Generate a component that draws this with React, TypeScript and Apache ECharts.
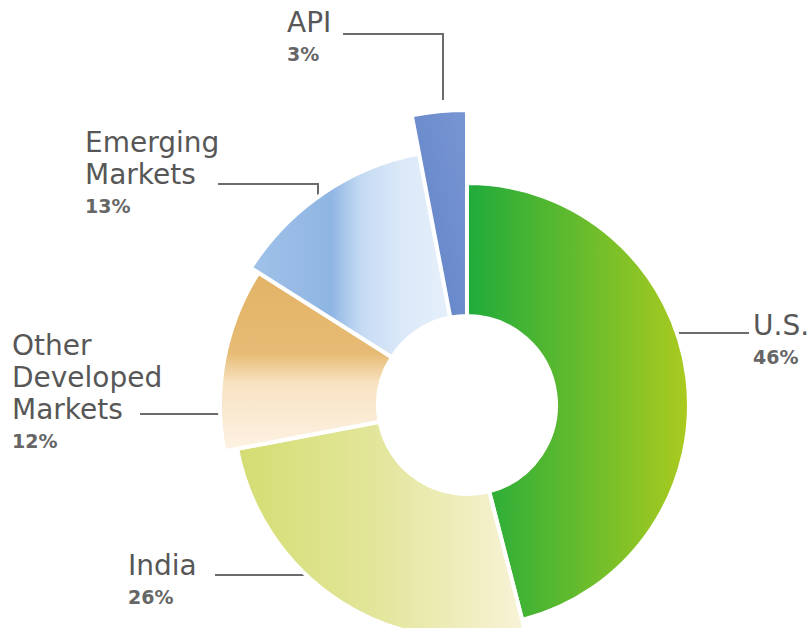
import { useEffect, useRef } from 'react';
import * as echarts from 'echarts';

// ---- data ----
const categories = ['U.S.', 'India', 'Other\nDeveloped\nMarkets', 'Emerging\nMarkets', 'API'];
const shares = [46, 26, 12, 13, 3];

// ---- styling / layout (not data) ----
const CENTER = [467, 405];
const INNER_RADIUS = 89;
const OUTER_RADII = [222, 234, 247, 256, 295];
const FONT = '"DejaVu Sans", sans-serif';

const GRADIENTS: [number, number, number, number, [number, string][]][] = [
  [0, 0, 1, 0, [[0, '#1fab3b'], [1, '#abcb1f']]],
  [0, 0, 1, 0, [[0, '#d4dd72'], [0.5, '#e3e69c'], [1, '#f8f3d8']]],
  [0, 0, 0, 1, [[0, '#e2b366'], [0.45, '#e6bb74'], [0.62, '#f8e3c3'], [1, '#fdf2e3']]],
  [0, 0, 1, 0, [[0, '#a0c2ea'], [0.4, '#8fb5e2'], [0.55, '#c4daf3'], [0.75, '#dbe8f8'], [1, '#e6f0fb']]],
  [0, 1, 1, 0, [[0, '#6282c6'], [1, '#7896d3']]],
];

// label anchor (left/top of text block) and elbow line points
const LABEL_LAYOUT = [
  { x: 753, y: 309, line: [[675, 333], [713, 333], [749, 333]] },
  { x: 128, y: 549, line: [[305, 575], [260, 575], [215, 575]] },
  { x: 12, y: 329, line: [[222, 414], [180, 414], [140, 414]] },
  { x: 85, y: 126, line: [[318, 207], [318, 184], [218, 184]] },
  { x: 287, y: 6, line: [[443, 100], [443, 34], [343, 34]] },
];

export default function App() {
  const ref = useRef<HTMLDivElement>(null);

  useEffect(() => {
    const chart = echarts.init(ref.current!, null, { renderer: 'svg' });
    const fills = GRADIENTS.map(
      ([x1, y1, x2, y2, stops]) =>
        new echarts.graphic.LinearGradient(
          x1, y1, x2, y2,
          stops.map(([offset, color]) => ({ offset, color }))
        )
    );

    const series = categories.map((_, i) => ({
      type: 'pie',
      center: CENTER,
      radius: [INNER_RADIUS, OUTER_RADII[i]],
      startAngle: 90,
      clockwise: true,
      avoidLabelOverlap: false,
      silent: true,
      z: 2 + i,
      emphasis: { disabled: true },
      label: { show: false },
      labelLine: { show: false },
      data: categories.map((name, j) =>
        j === i
          ? {
              name,
              value: shares[j],
              itemStyle: { color: fills[j], borderColor: '#ffffff', borderWidth: 4 },
              label: {
                show: true,
                position: 'outside',
                formatter:
                  name.split('\n').map((s) => `{n|${s}}`).join('\n') + `\n{p|${shares[j]}%}`,
                rich: {
                  n: { fontFamily: FONT, fontSize: 28, lineHeight: 32, color: '#575757' },
                  p: { fontFamily: FONT, fontSize: 19, fontWeight: 'bold', lineHeight: 31, color: '#666666' },
                },
              },
              labelLine: { show: true, lineStyle: { color: '#6b6b6b', width: 2 } },
            }
          : {
              name,
              value: shares[j],
              itemStyle: { color: 'rgba(0,0,0,0)', borderWidth: 0 },
              label: { show: false },
              labelLine: { show: false },
            }
      ),
      labelLayout: (p: any) =>
        p.dataIndex === i
          ? {
              x: LABEL_LAYOUT[i].x,
              y: LABEL_LAYOUT[i].y,
              align: 'left',
              verticalAlign: 'top',
              labelLinePoints: LABEL_LAYOUT[i].line,
            }
          : {},
    }));

    chart.setOption({ animation: false, backgroundColor: '#ffffff', series });
    return () => chart.dispose();
  }, []);

  return (
    <div
      ref={ref}
      style={{ position: 'absolute', left: 0, top: 0, width: 812, height: 628 }}
    />
  );
}
